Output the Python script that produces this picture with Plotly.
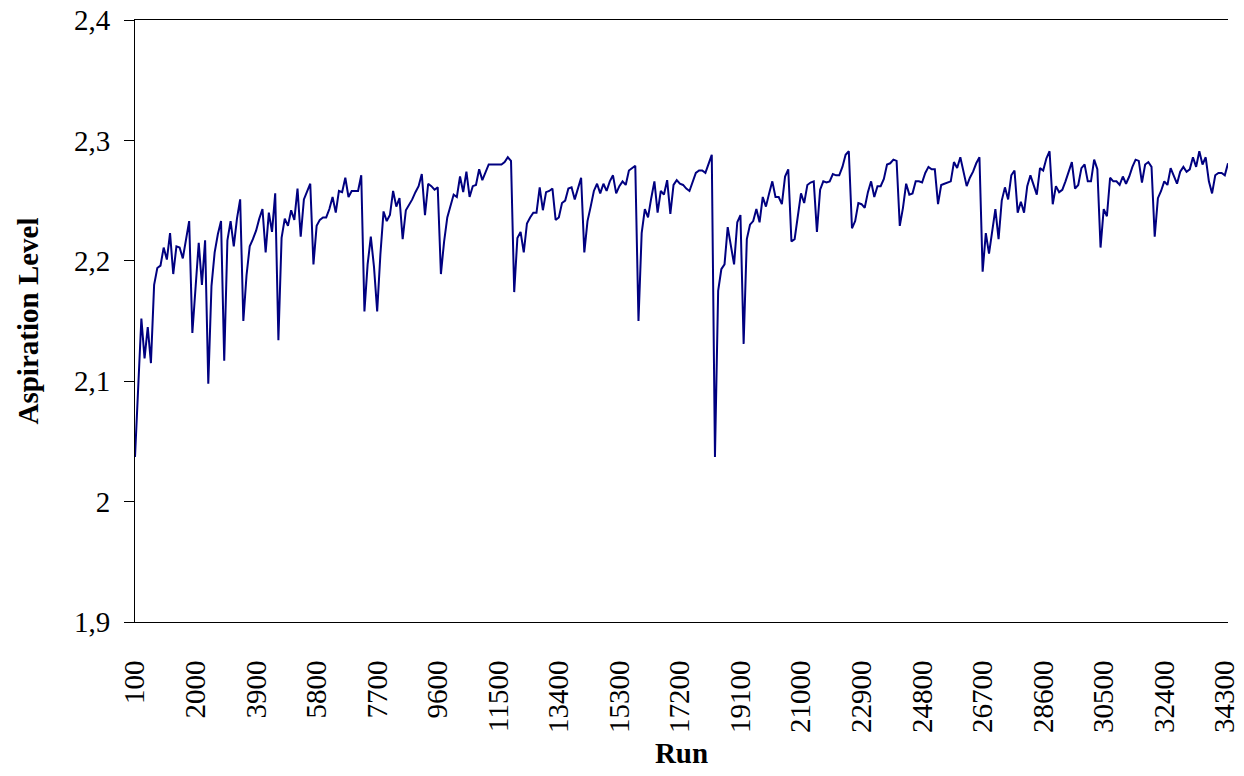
import plotly.graph_objects as go

# Categories: run numbers (every 100 runs)
runs = list(range(100, 34401, 100))

# Aspiration level per run
aspiration = [
    2.037, 2.092, 2.152, 2.119, 2.145, 2.115, 2.180, 2.194, 2.196, 2.211,
    2.201, 2.223, 2.189, 2.212, 2.211, 2.202, 2.219, 2.233, 2.140, 2.178,
    2.215, 2.180, 2.217, 2.098, 2.179, 2.207, 2.222, 2.233, 2.117, 2.217,
    2.233, 2.212, 2.235, 2.251, 2.150, 2.188, 2.212, 2.218, 2.225, 2.235,
    2.243, 2.207, 2.240, 2.224, 2.256, 2.134, 2.219, 2.235, 2.229, 2.242,
    2.234, 2.260, 2.220, 2.251, 2.258, 2.264, 2.197, 2.229, 2.234, 2.236,
    2.236, 2.243, 2.253, 2.240, 2.258, 2.257, 2.269, 2.253, 2.258, 2.258,
    2.258, 2.271, 2.158, 2.197, 2.220, 2.195, 2.158, 2.205, 2.241, 2.233,
    2.238, 2.258, 2.245, 2.252, 2.218, 2.242, 2.246, 2.251, 2.257, 2.262,
    2.272, 2.238, 2.264, 2.262, 2.259, 2.261, 2.189, 2.216, 2.236, 2.245,
    2.255, 2.253, 2.270, 2.257, 2.274, 2.253, 2.262, 2.263, 2.276, 2.267,
    2.273, 2.280, 2.280, 2.280, 2.280, 2.280, 2.282, 2.286, 2.283, 2.174,
    2.219, 2.224, 2.207, 2.231, 2.236, 2.240, 2.240, 2.261, 2.242, 2.257,
    2.258, 2.260, 2.234, 2.236, 2.248, 2.250, 2.260, 2.261, 2.251, 2.260,
    2.269, 2.207, 2.233, 2.245, 2.258, 2.264, 2.256, 2.264, 2.258, 2.266,
    2.271, 2.256, 2.262, 2.266, 2.263, 2.275, 2.277, 2.279, 2.150, 2.223,
    2.243, 2.236, 2.252, 2.266, 2.240, 2.258, 2.255, 2.267, 2.239, 2.263,
    2.267, 2.264, 2.263, 2.260, 2.258, 2.266, 2.273, 2.275, 2.275, 2.273,
    2.280, 2.288, 2.037, 2.175, 2.193, 2.197, 2.228, 2.211, 2.197, 2.232,
    2.238, 2.131, 2.218, 2.230, 2.233, 2.243, 2.232, 2.253, 2.245, 2.256,
    2.266, 2.253, 2.253, 2.247, 2.270, 2.276, 2.216, 2.218, 2.238, 2.256,
    2.248, 2.263, 2.265, 2.266, 2.224, 2.259, 2.266, 2.265, 2.266, 2.272,
    2.271, 2.271, 2.278, 2.288, 2.291, 2.227, 2.233, 2.248, 2.247, 2.244,
    2.257, 2.266, 2.253, 2.262, 2.262, 2.268, 2.280, 2.281, 2.284, 2.283,
    2.229, 2.244, 2.264, 2.255, 2.256, 2.266, 2.266, 2.265, 2.273, 2.278,
    2.276, 2.276, 2.247, 2.263, 2.264, 2.265, 2.266, 2.282, 2.277, 2.286,
    2.273, 2.262, 2.269, 2.274, 2.281, 2.286, 2.191, 2.223, 2.206, 2.225,
    2.243, 2.218, 2.250, 2.261, 2.251, 2.271, 2.275, 2.240, 2.249, 2.240,
    2.262, 2.271, 2.263, 2.255, 2.277, 2.275, 2.285, 2.291, 2.247, 2.262,
    2.257, 2.259, 2.266, 2.275, 2.282, 2.260, 2.263, 2.277, 2.280, 2.266,
    2.266, 2.284, 2.276, 2.211, 2.243, 2.237, 2.269, 2.266, 2.266, 2.263,
    2.270, 2.264, 2.270, 2.278, 2.284, 2.283, 2.265, 2.280, 2.282, 2.278,
    2.220, 2.252, 2.258, 2.266, 2.263, 2.277, 2.271, 2.264, 2.274, 2.278,
    2.274, 2.276, 2.286, 2.278, 2.291, 2.280, 2.286, 2.266, 2.256, 2.271,
    2.273, 2.273, 2.271, 2.281,
]
assert len(aspiration) == len(runs)

# Axis ticks
x_tick_vals = list(range(100, 34301, 1900))
x_tick_text = [str(v) for v in x_tick_vals]
y_tick_vals = [1.9, 2.0, 2.1, 2.2, 2.3, 2.4]
y_tick_text = ["1,9", "2", "2,1", "2,2", "2,3", "2,4"]

FONT = "Liberation Serif, Times New Roman, serif"

fig = go.Figure()
fig.add_trace(go.Scatter(
    x=runs, y=aspiration, mode="lines",
    line=dict(color="#000080", width=2),
    showlegend=False, hoverinfo="x+y",
))

fig.update_layout(
    width=1244, height=776,
    margin=dict(l=127, r=24, t=12, b=162),
    paper_bgcolor="white", plot_bgcolor="white",
    font=dict(family=FONT, size=29, color="black"),
    showlegend=False,
    xaxis=dict(
        range=[100, 34400], tickmode="array",
        tickvals=x_tick_vals, ticktext=x_tick_text,
        tickangle=-90, ticks="", showgrid=False, zeroline=False,
        showline=True, linecolor="black", linewidth=1, mirror=True,
        ticklabelstandoff=26, ticklabeloverflow="allow",
        title=dict(text="<b>Run</b>", font=dict(size=29), standoff=10),
        automargin=False,
    ),
    yaxis=dict(
        range=[1.9, 2.4], tickmode="array",
        tickvals=y_tick_vals, ticktext=y_tick_text,
        ticks="outside", ticklen=10, tickcolor="black", tickwidth=1,
        showgrid=False, zeroline=False,
        showline=True, linecolor="black", linewidth=1,
        ticklabelstandoff=8, ticklabeloverflow="allow",
        title=dict(text="<b>Aspiration Level</b>", font=dict(size=29), standoff=26),
        automargin=False,
    ),
    yaxis2=dict(
        range=[1.9, 2.4], overlaying="y", side="left", anchor="x",
        tickmode="array", tickvals=y_tick_vals,
        ticks="inside", ticklen=10, tickcolor="black", tickwidth=1,
        showticklabels=False, showgrid=False, zeroline=False, showline=False,
    ),
)

fig.write_html("out.html")
